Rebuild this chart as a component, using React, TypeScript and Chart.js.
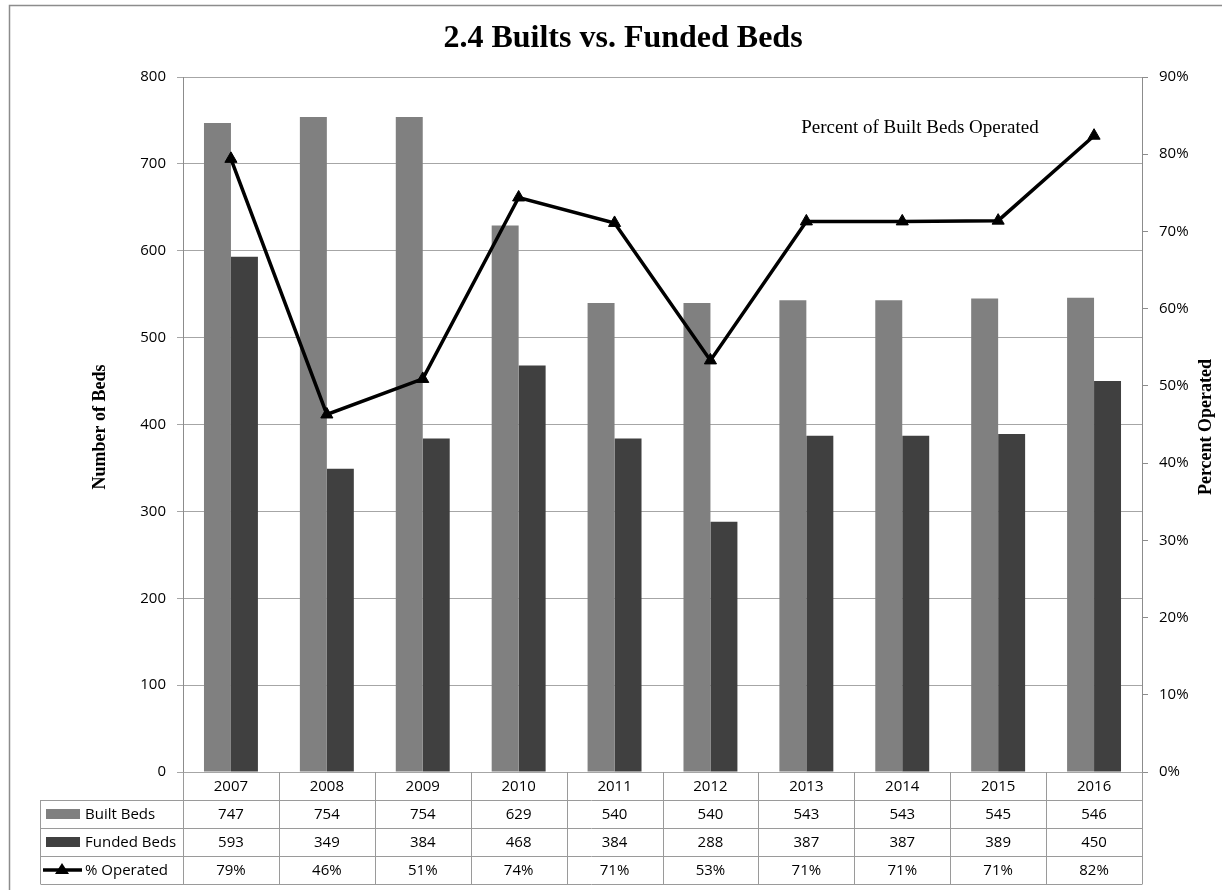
import React, { useEffect, useRef } from "react";
import { Chart, registerables } from "chart.js";

Chart.register(...registerables);

const years = ["2007", "2008", "2009", "2010", "2011", "2012", "2013", "2014", "2015", "2016"];
const builtBeds = [747, 754, 754, 629, 540, 540, 543, 543, 545, 546];
const fundedBeds = [593, 349, 384, 468, 384, 288, 387, 387, 389, 450];
const pctOperated = [79.4, 46.3, 50.9, 74.4, 71.1, 53.3, 71.3, 71.3, 71.4, 82.4];
const pctLabels = ["79%", "46%", "51%", "74%", "71%", "53%", "71%", "71%", "71%", "82%"];

const TITLE = "2.4 Builts vs. Funded Beds";
const NOTE = "Percent of Built Beds Operated";
const SANS = "'Open Sans', 'Noto Sans', sans-serif";
const SERIF = "'Liberation Serif', 'DejaVu Serif', serif";

const decorPlugin = {
  id: "decor",
  beforeDraw(chart: any) {
    const ctx = chart.ctx;
    ctx.save();
    ctx.fillStyle = "#ffffff";
    ctx.fillRect(0, 0, chart.width, chart.height);
    ctx.restore();
  },
  afterDraw(chart: any) {
    const ctx = chart.ctx;
    const area = chart.chartArea;
    const x = chart.scales.x;
    ctx.save();
    // outer border
    ctx.strokeStyle = "#8c8c8c";
    ctx.lineWidth = 1.5;
    ctx.beginPath();
    ctx.moveTo(9.5, chart.height + 5);
    ctx.lineTo(9.5, 5.5);
    ctx.lineTo(chart.width + 5, 5.5);
    ctx.stroke();

    // title
    ctx.fillStyle = "#000";
    ctx.textAlign = "center";
    ctx.textBaseline = "alphabetic";
    ctx.font = `bold 32px ${SERIF}`;
    ctx.fillText(TITLE, 623, 47);

    // note
    ctx.font = `19px ${SERIF}`;
    ctx.textBaseline = "middle";
    ctx.fillText(NOTE, 920, 128);

    // axis titles
    const midY = 427;
    ctx.font = `bold 18px ${SERIF}`;
    ctx.save();
    ctx.translate(100, midY);
    ctx.rotate(-Math.PI / 2);
    ctx.fillText("Number of Beds", 0, 0);
    ctx.restore();
    ctx.save();
    ctx.translate(1206, midY);
    ctx.rotate(-Math.PI / 2);
    ctx.fillText("Percent Operated", 0, 0);
    ctx.restore();

    // data table
    const n = years.length;
    const catW = (area.right - area.left) / n;
    const rowH = 28;
    const top = area.bottom;
    const tableLeft = 40.5;
    const right = Math.round(area.right) + 0.5;
    ctx.strokeStyle = "#9a9a9a";
    ctx.lineWidth = 1;
    ctx.beginPath();
    for (let i = 0; i <= n; i++) {
      const px = Math.round(area.left + i * catW) + 0.5;
      ctx.moveTo(px, top);
      ctx.lineTo(px, top + rowH * 4);
    }
    ctx.moveTo(tableLeft, top + rowH);
    ctx.lineTo(tableLeft, top + rowH * 4);
    for (let r = 1; r <= 4; r++) {
      const py = Math.round(top + r * rowH) + 0.5;
      ctx.moveTo(tableLeft, py);
      ctx.lineTo(right, py);
    }
    ctx.stroke();

    ctx.fillStyle = "#000";
    ctx.font = `15px ${SANS}`;
    ctx.textAlign = "center";
    ctx.textBaseline = "middle";
    const rows: string[][] = [
      years,
      builtBeds.map((v) => String(v)),
      fundedBeds.map((v) => String(v)),
      pctLabels,
    ];
    rows.forEach((row, r) => {
      const cy = top + r * rowH + rowH / 2 + 1;
      row.forEach((txt, i) => {
        ctx.fillText(txt, x.getPixelForValue(i), cy);
      });
    });

    const labels = ["Built Beds", "Funded Beds", "% Operated"];
    ctx.textAlign = "left";
    labels.forEach((lab, k) => {
      const cy = top + (k + 1) * rowH + rowH / 2;
      if (k === 0 || k === 1) {
        ctx.fillStyle = k === 0 ? "#808080" : "#404040";
        ctx.fillRect(46, cy - 5, 34, 10);
      } else {
        ctx.strokeStyle = "#000";
        ctx.lineWidth = 3.5;
        ctx.beginPath();
        ctx.moveTo(43, cy);
        ctx.lineTo(82, cy);
        ctx.stroke();
        ctx.fillStyle = "#000";
        ctx.beginPath();
        ctx.moveTo(62, cy - 7);
        ctx.lineTo(69, cy + 4);
        ctx.lineTo(55, cy + 4);
        ctx.closePath();
        ctx.fill();
      }
      ctx.fillStyle = "#000";
      ctx.fillText(lab, 85, cy + 1);
    });
    ctx.restore();
  },
};

export default function App() {
  const ref = useRef<HTMLCanvasElement | null>(null);
  useEffect(() => {
    if (!ref.current) return;
    const chart = new Chart(ref.current, {
      type: "bar",
      data: {
        labels: years,
        datasets: [
          {
            type: "line",
            label: "% Operated",
            data: pctOperated,
            yAxisID: "y1",
            borderColor: "#000",
            backgroundColor: "#000",
            borderWidth: 3.5,
            pointStyle: "triangle",
            pointRadius: 7,
            pointBackgroundColor: "#000",
            pointBorderColor: "#000",
            pointBorderWidth: 1,
            order: 0,
          } as any,
          {
            type: "bar",
            label: "Built Beds",
            data: builtBeds,
            yAxisID: "y",
            backgroundColor: "#808080",
            categoryPercentage: 0.5625,
            barPercentage: 1,
            order: 1,
          },
          {
            type: "bar",
            label: "Funded Beds",
            data: fundedBeds,
            yAxisID: "y",
            backgroundColor: "#404040",
            categoryPercentage: 0.5625,
            barPercentage: 1,
            order: 1,
          },
        ],
      },
      options: {
        responsive: false,
        animation: false,
        devicePixelRatio: 1,
        layout: { padding: { left: 0, right: 0, top: 77, bottom: 118 } },
        plugins: {
          legend: { display: false },
          title: { display: false },
          tooltip: { enabled: false },
        },
        scales: {
          x: { display: false },
          y: {
            position: "left",
            min: 0,
            max: 800,
            ticks: {
              stepSize: 100,
              padding: 11,
              color: "#000",
              font: { family: SANS, size: 15 },
            },
            grid: { color: "#a6a6a6", lineWidth: 1, tickLength: 6, drawTicks: true },
            border: { color: "#8c8c8c" },
            afterFit: (s: any) => {
              s.width = 183;
            },
          },
          y1: {
            position: "right",
            min: 0,
            max: 90,
            ticks: {
              stepSize: 10,
              padding: 11,
              color: "#000",
              font: { family: SANS, size: 15 },
              callback: (v: any) => `${v}%`,
            },
            grid: { drawOnChartArea: false, color: "#8c8c8c", tickLength: 6 },
            border: { color: "#8c8c8c" },
            afterFit: (s: any) => {
              s.width = 80;
            },
          },
        },
      } as any,
      plugins: [decorPlugin],
    });
    return () => chart.destroy();
  }, []);
  return (
    <div style={{ position: "absolute", left: 0, top: 0, width: 1222, height: 890, background: "#fff" }}>
      <canvas ref={ref} width={1222} height={890} style={{ display: "block" }} />
    </div>
  );
}
